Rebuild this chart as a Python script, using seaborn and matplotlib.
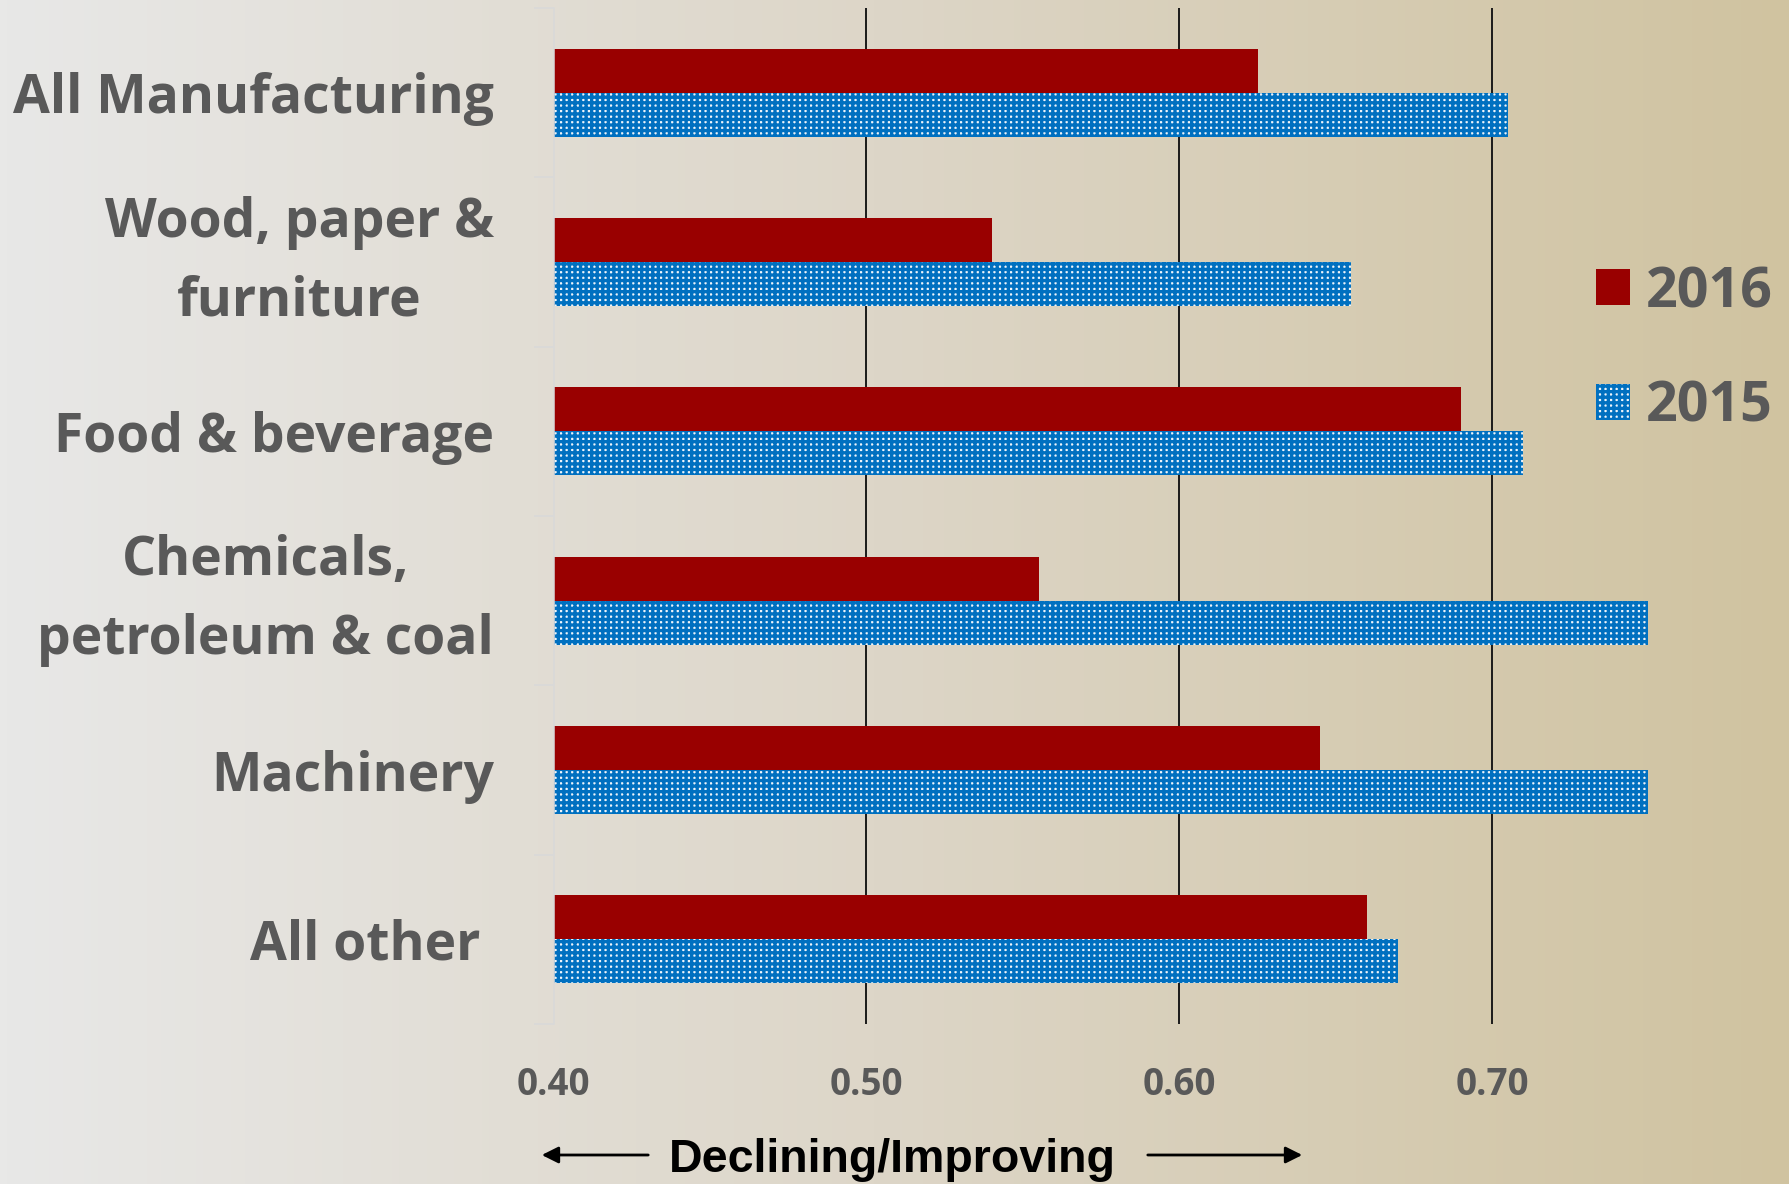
import numpy as np
import pandas as pd
import matplotlib
matplotlib.use("Agg")
import matplotlib.pyplot as plt
from matplotlib.colors import LinearSegmentedColormap
from matplotlib.patches import FancyArrowPatch
from matplotlib.ticker import FixedLocator
import seaborn as sns

# ---------------- data ----------------
categories = ["All Manufacturing", "Wood, paper &\nfurniture", "Food & beverage",
              "Chemicals,\npetroleum & coal", "Machinery", "All other "]
values_2016 = [0.625, 0.540, 0.690, 0.555, 0.645, 0.660]
values_2015 = [0.705, 0.655, 0.710, 0.750, 0.750, 0.670]
years = ["2016", "2015"]
x_ticks = [0.40, 0.50, 0.60, 0.70]
x_tick_labels = ["0.40", "0.50", "0.60", "0.70"]
x_axis_note = "Declining/Improving"

df = pd.DataFrame({
    "category": categories * 2,
    "value": values_2016 + values_2015,
    "year": ["2016"] * len(categories) + ["2015"] * len(categories),
})

# ---------------- style ----------------
sns.set_theme(style="white")
plt.rcParams["font.family"] = ["Open Sans", "DejaVu Sans"]
plt.rcParams["hatch.linewidth"] = 2.4

W, H = 1790, 1184
fig = plt.figure(figsize=(W / 100, H / 100), dpi=100)

# background gradient
bg = fig.add_axes([0, 0, 1, 1], zorder=-10)
cmap = LinearSegmentedColormap.from_list(
    "bg", [(0.0, "#e8e8e7"), (0.49, "#ddd6c8"), (1.0, "#d0c3a0")])
grad = np.linspace(0, 1, 512).reshape(1, -1)
bg.imshow(grad, aspect="auto", cmap=cmap, extent=[0, 1, 0, 1])
bg.set_axis_off()

left_px, right_px, top_px, bottom_px = 553.7, 1790, 8, 1024
ax = fig.add_axes([left_px / W, 1 - bottom_px / H,
                   (right_px - left_px) / W, (bottom_px - top_px) / H])
ax.patch.set_alpha(0)

palette = {"2016": "#990000", "2015": "#0070c0"}
sns.barplot(data=df, y="category", x="value", hue="year", hue_order=years,
            order=categories, orient="h", palette=palette, saturation=1,
            width=0.52, dodge=True, ax=ax, legend=True)

def style_hatched(p):
    p.set_facecolor("#eef4fa")
    p.set_edgecolor("#0070c0")
    p.set_hatch("+++")
    p.set_linewidth(0)

for bar in ax.containers[1]:
    style_hatched(bar)
for bar in ax.containers[0]:
    bar.set_linewidth(0)

px_per_unit = 3128.0
ax.set_xlim(0.40, 0.40 + (right_px - left_px) / px_per_unit)
ax.set_ylim(len(categories) - 0.5, -0.5)

ax.set_xticks(x_ticks)
ax.set_xticklabels(x_tick_labels)
ax.grid(axis="x", color="#1a1a1a", linewidth=1.4)
ax.grid(axis="y", visible=False)
ax.set_axisbelow(True)
ax.xaxis.get_gridlines()[0].set_visible(False)

ax.tick_params(axis="x", length=0, pad=30, labelsize=26.5, labelcolor="#595959")
for t in ax.get_xticklabels():
    t.set_fontweight("bold")

ax.tick_params(axis="y", which="major", length=0, pad=43, labelsize=38.5,
               labelcolor="#595959")
for t in ax.get_yticklabels():
    t.set_fontweight("bold")
    t.set_multialignment("center")
    t.set_linespacing(1.6)
    if "\n" in t.get_text():
        t.set_verticalalignment("center")

ax.yaxis.set_minor_locator(FixedLocator(np.arange(-0.5, len(categories), 1.0)))
ax.tick_params(axis="y", which="minor", length=14.5, width=1.1, color="#d9d9d9",
               direction="out", left=True)

for s in ["top", "right", "bottom"]:
    ax.spines[s].set_visible(False)
ax.spines["left"].set_color("#d9d9d9")
ax.spines["left"].set_linewidth(1.1)

ax.set_xlabel("")
ax.set_ylabel("")

# legend
h, l = ax.get_legend_handles_labels()
for hh in h:
    hh.set_linewidth(0)
style_hatched(h[1])
ax.legend(h, l, loc="upper left", bbox_to_anchor=(1596 / W, 1 - 265 / H),
          bbox_transform=fig.transFigure, frameon=False,
          prop={"weight": "bold", "size": 40}, labelcolor="#595959",
          handlelength=0.62, handleheight=0.62, handletextpad=0.28,
          labelspacing=1.07, borderpad=0, borderaxespad=0)

# bottom note with arrows
y_arrow = 1 - 1155 / H
fig.text(892 / W, 1 - 1160 / H, x_axis_note, ha="center", va="center",
         fontsize=33.5, fontweight="bold", color="black",
         family=["Liberation Sans", "DejaVu Sans"])
for x0, x1 in [(651, 539), (1145, 1305)]:
    fig.add_artist(FancyArrowPatch((x0 / W, y_arrow), (x1 / W, y_arrow),
                                   transform=fig.transFigure,
                                   arrowstyle="-|>,head_length=10,head_width=5",
                                   mutation_scale=1, linewidth=2, color="black"))

fig.savefig("out.png", dpi=100)
